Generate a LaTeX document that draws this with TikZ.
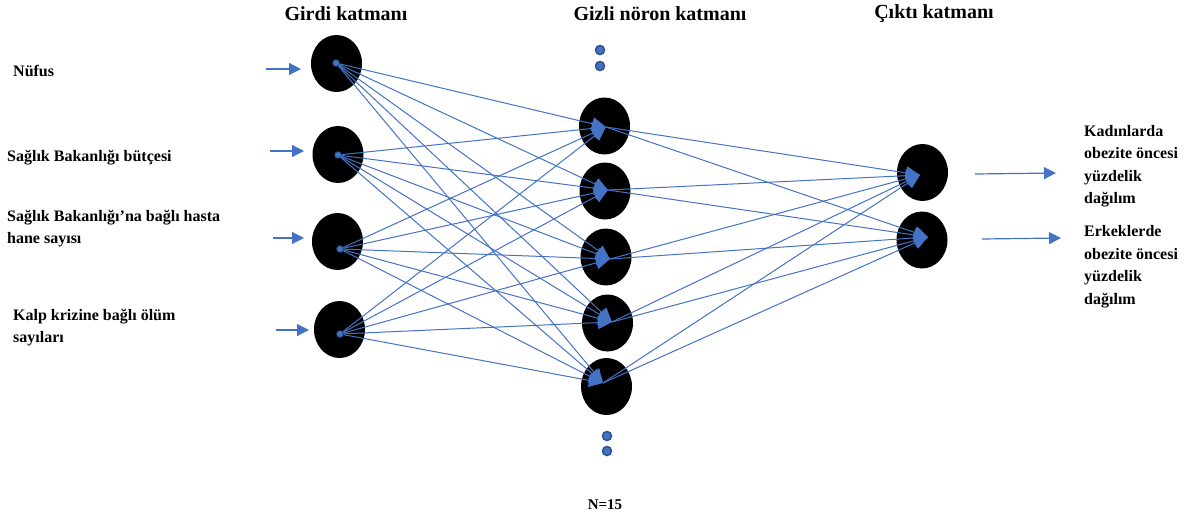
\documentclass[tikz,border=0pt]{standalone}
\usepackage{fontspec}
\setmainfont{Liberation Serif}
\usetikzlibrary{shapes.geometric,arrows.meta}
\definecolor{lblue}{HTML}{4472C4}
\definecolor{dblue}{HTML}{2F528F}
\tikzset{
  neuron/.style={ellipse,fill=black,minimum width=51pt,minimum height=57pt,inner sep=0pt},
  link/.style={lblue,line width=1pt,-{Triangle[length=14pt,width=13pt]}},
  feed/.style={lblue,line width=1.2pt,-{Triangle[length=12pt,width=12pt]}},
  vdot/.style={circle,fill=lblue,draw=dblue,line width=1.5pt,minimum size=9pt,inner sep=0pt},
  idot/.style={circle,fill=lblue,draw=dblue,line width=0.8pt,minimum size=6.5pt,inner sep=0pt},
  head/.style={font=\fontsize{20}{24}\selectfont\bfseries},
  lab/.style={font=\fontsize{16}{22.5}\selectfont\bfseries,align=left,anchor=west,inner sep=0pt},
}
\begin{document}
\begin{tikzpicture}[x=1pt,y=-1pt]
\useasboundingbox (0,0) rectangle (1197,522);
% headers
\node[head] (hIn) at (346,14) {Girdi katmanı};
\node[head] (hHid) at (660,14) {Gizli nöron katmanı};
\node[head] (hOut) at (934,14) {Çıktı katmanı};
% input neurons
\node[neuron] (in1) at (336.5,63.5) {};
\node[neuron] (in2) at (338,154.5) {};
\node[neuron] (in3) at (337.5,241.5) {};
\node[neuron] (in4) at (339.5,329.5) {};
% hidden neurons
\node[neuron] (h1) at (604.5,126) {};
\node[neuron] (h2) at (605,191) {};
\node[neuron] (h3) at (606,257) {};
\node[neuron] (h4) at (607.5,323) {};
\node[neuron] (h5) at (606.5,386.5) {};
% output neurons
\node[neuron] (o1) at (922.5,172.5) {};
\node[neuron] (o2) at (922,240) {};
% input dots
\node[idot] (d1) at (336,63) {};
\node[idot] (d2) at (338,155) {};
\node[idot] (d3) at (340,249) {};
\node[idot] (d4) at (340,334) {};
% arrow tips
\coordinate (t1) at (606,127);
\coordinate (t2) at (608,190);
\coordinate (t3) at (610,259);
\coordinate (t4) at (612,322);
\coordinate (t5) at (603,383);
\coordinate (u1) at (920,175);
\coordinate (u2) at (928,237);
% input to hidden
\foreach \i in {1,...,4}{
  \foreach \j in {1,...,5}{
    \draw[link] (d\i) -- (t\j);
  }
}
% hidden to output
\foreach \j in {1,...,5}{
  \draw[link] (t\j) -- (u1);
  \draw[link] (t\j) -- (u2);
}
% input feed arrows
\coordinate (a1s) at (266,69); \coordinate (a1e) at (301,69);
\coordinate (a2s) at (270,151); \coordinate (a2e) at (304,151);
\coordinate (a3s) at (273,238); \coordinate (a3e) at (304,238);
\coordinate (a4s) at (276,330); \coordinate (a4e) at (309,330);
\draw[feed] (a1s) -- (a1e);
\draw[feed] (a2s) -- (a2e);
\draw[feed] (a3s) -- (a3e);
\draw[feed] (a4s) -- (a4e);
% output feed arrows
\coordinate (b1s) at (975,174); \coordinate (b1e) at (1056,173);
\coordinate (b2s) at (982,239); \coordinate (b2e) at (1061,238);
\draw[feed] (b1s) -- (b1e);
\draw[feed] (b2s) -- (b2e);
% ellipsis dots
\node[vdot] (v1) at (600,50) {};
\node[vdot] (v2) at (600,66) {};
\node[vdot] (v3) at (607,436) {};
\node[vdot] (v4) at (607,451) {};
% labels
\node[lab] (l1) at (13,71) {Nüfus};
\node[lab] (l2) at (7,158) {Sağlık Bakanlığı bütçesi};
\node[lab] (l3) at (7,228.5) {Sağlık Bakanlığı’na bağlı hasta\\hane sayısı};
\node[lab] (l4) at (13,327.5) {Kalp krizine bağlı ölüm\\sayıları};
\node[lab] (r1) at (1084,166) {Kadınlarda\\obezite öncesi\\yüzdelik\\dağılım};
\node[lab] (r2) at (1084,266.5) {Erkeklerde\\obezite öncesi\\yüzdelik\\dağılım};
\node[font=\fontsize{15}{18}\selectfont\bfseries] (n) at (605,505) {N=15};
\end{tikzpicture}
\end{document}
